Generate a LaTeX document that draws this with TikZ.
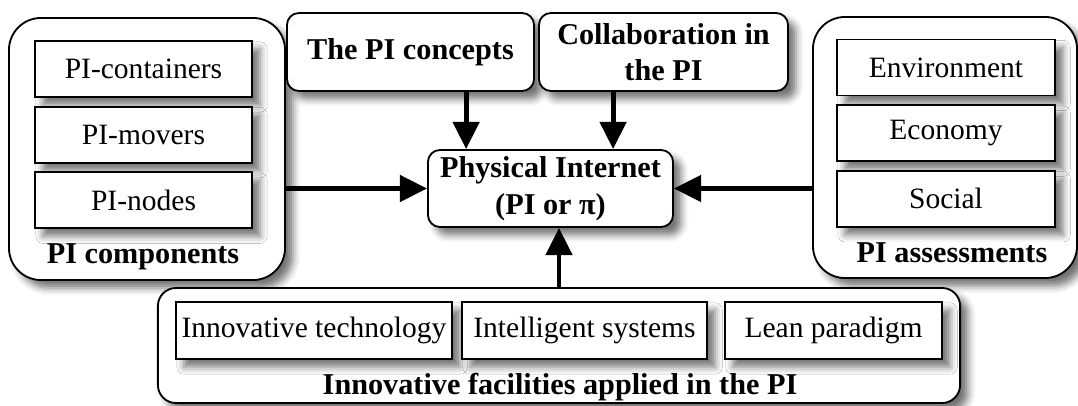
\documentclass[tikz,border=0pt]{standalone}
\usepackage{fontspec}
\setmainfont{Liberation Serif}
\usetikzlibrary{arrows.meta,shadows.blur}

\begin{document}
\begin{tikzpicture}[>={Triangle[length=6.8mm,width=6.5mm]}, x=0.025cm, y=-0.025cm, node distance=1.64cm, font=\fontsize{21}{26}\selectfont]
	\tikzstyle{shade} = [blur shadow={shadow xshift=0.2cm, shadow yshift=-0.2cm, shadow blur radius=0.18cm, shadow opacity=55}]
	\tikzstyle{group} = [draw, line width=1.3pt, fill=white, rounded corners=0.8cm, inner sep=0pt, shade]
	\tikzstyle{square} = [draw, line width=1.3pt, fill=white, rectangle, minimum height=1.4cm, inner sep=0pt, shade]
	\tikzstyle{topic} = [draw, line width=1.3pt, fill=white, rounded corners=0.3cm, align=center, inner sep=0pt, font=\fontsize{21.5}{26}\selectfont\bfseries, minimum height=1.95cm, shade]
	\tikzstyle{caption} = [font=\fontsize{21.5}{26}\selectfont\bfseries]
	\tikzstyle{link} = [->, line width=3.5pt]

	\useasboundingbox (0,0) rectangle (1078,406);

	% the three groups
	\node[group, minimum width=6.9cm, minimum height=6.55cm] (comp) at (147,149) {};
	\node[group, minimum width=6.6cm, minimum height=6.525cm] (assess) at (945,147.5) {};
	\node[group, rounded corners=0.45cm, minimum width=20.05cm, minimum height=2.875cm] (facil) at (559,345.5) {};

	% centre and the two topics above it
	\node[topic, minimum width=6.175cm] (concepts) at (410.5,52) {The PI concepts};
	\node[topic, minimum width=6.225cm] (collab) at (663.5,52) {Collaboration in\\the PI};
	\node[topic, minimum width=6.125cm, minimum height=1.925cm] (pi) at (550.5,188.5) {Physical Internet\\(PI or π)};

	% PI components
	\node[square, minimum width=5.425cm] (cont) at (143.5,69) {PI-containers};
	\node[square, minimum width=5.425cm, below of=cont] (mov) {PI-movers};
	\node[square, minimum width=5.425cm, below of=mov] (pinode) {PI-nodes};
	\node[caption] (compcap) at (143,257) {PI components};

	% PI assessments
	\node[square, minimum width=5.45cm] (env) at (946,67.5) {Environment};
	\node[square, minimum width=5.45cm, below of=env] (eco) {Economy};
	\node[square, minimum width=5.45cm, below of=eco] (soc) {Social};
	\node[caption] (assesscap) at (952,253) {PI assessments};

	% facilities
	\node[square, minimum width=6.9cm, minimum height=1.425cm] (tech) at (314,330.5) {Innovative technology};
	\node[square, minimum width=6.125cm, minimum height=1.425cm] (intel) at (584.5,330.5) {Intelligent systems};
	\node[square, minimum width=5.425cm, minimum height=1.425cm] (lean) at (833.5,330.5) {Lean paradigm};
	\node[caption] (facilcap) at (560,387) {Innovative facilities applied in the PI};

	% arrows into the centre
	\draw[link] ([xshift=1.39cm]concepts.south) -- ([xshift=1.39cm]concepts.south |- pi.north);
	\draw[link] ([xshift=-1.26cm]collab.south) -- ([xshift=-1.26cm]collab.south |- pi.north);
	\draw[link] (comp.east |- pi.west) -- (pi.west);
	\draw[link] (assess.west |- pi.east) -- (pi.east);
	\draw[link] (facil.north) -- (facil.north |- pi.south);
\end{tikzpicture}
\end{document}
